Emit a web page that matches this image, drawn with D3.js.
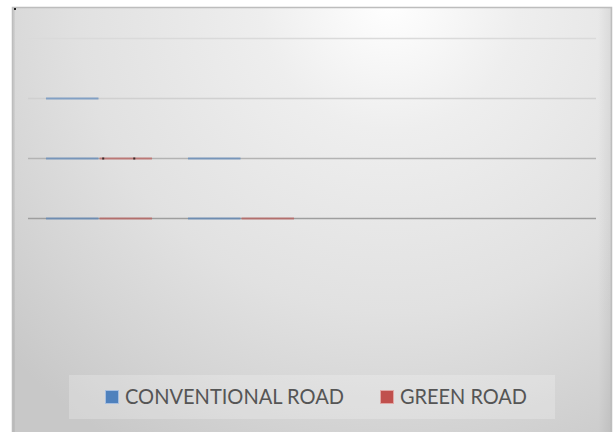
<!DOCTYPE html>
<html>
<head>
<meta charset="utf-8">
<script src="https://cdn.jsdelivr.net/npm/d3@7"></script>
<style>
html,body{margin:0;padding:0;background:#fff;}
svg{display:block;}
</style>
</head>
<body>
<svg id="chart" width="614" height="432"></svg>
<script>
// ---- data ----
const categories = ["1", "2", "3", "4"];
const seriesNames = ["CONVENTIONAL ROAD", "GREEN ROAD"];
const conventionalRoad = [2, 1, null, null];
const greenRoad = [1, 0, null, null];
const yTicks = [0, 1, 2, 3];

const colors = ["#4f81bd", "#c0504d"];
const svg = d3.select("#chart");

// background gradient (chart area)
const defs = svg.append("defs");
const rg = defs.append("radialGradient").attr("id", "bg")
  .attr("gradientUnits", "userSpaceOnUse")
  .attr("cx", 390).attr("cy", 0).attr("r", 520).attr("fx", 390).attr("fy", 0);
[[0, "#ffffff"], [0.25, "#eeeeee"], [0.6, "#e1e1e1"], [0.8, "#d5d5d5"], [1, "#c8c8c8"]]
  .forEach(([o, c]) => rg.append("stop").attr("offset", o).attr("stop-color", c));
const edgeL = defs.append("linearGradient").attr("id", "edgeR").attr("x1", 0).attr("x2", 1);
edgeL.append("stop").attr("offset", 0).attr("stop-color", "#000").attr("stop-opacity", 0);
edgeL.append("stop").attr("offset", 1).attr("stop-color", "#000").attr("stop-opacity", 0.06);

svg.append("rect").attr("x", 12.5).attr("y", 7.5).attr("width", 599).attr("height", 430)
  .attr("fill", "url(#bg)").attr("stroke", "#bdbdbd").attr("stroke-width", 1.5);
svg.append("rect").attr("x", 598).attr("y", 8).attr("width", 13).attr("height", 424)
  .attr("fill", "url(#edgeR)");
svg.append("rect").attr("x", 13).attr("y", 8).attr("width", 2).attr("height", 424)
  .attr("fill", "#000").attr("fill-opacity", 0.05);

// scales
const x0 = d3.scaleBand().domain(categories).range([28, 596]).paddingInner(0.246).paddingOuter(0.123);
const x1 = d3.scaleBand().domain(seriesNames).range([0, x0.bandwidth()]).padding(0);
const y = d3.scaleLinear().domain([0, 3]).range([217.7, 38.3]);

// gridlines
const gridColors = ["#9e9e9e", "#b3b3b3", "#d0d0d0", "#dadada"];
svg.append("g").selectAll("line").data(yTicks).join("line")
  .attr("x1", 28).attr("x2", 596)
  .attr("y1", d => Math.round(y(d)) + 0.5).attr("y2", d => Math.round(y(d)) + 0.5)
  .attr("stroke", (d, i) => gridColors[i]).attr("stroke-width", 1.5);

// bars: unfilled bars drawn as horizontal edges at each unit level
const series = [conventionalRoad, greenRoad];
const segs = [];
series.forEach((vals, s) => {
  vals.forEach((v, i) => {
    if (v == null) return;
    for (let k = 0; k <= v; k++) segs.push({ s, cat: categories[i], level: k });
  });
});
svg.append("g").selectAll("line").data(segs).join("line")
  .attr("x1", d => x0(d.cat) + x1(seriesNames[d.s]) + 0.5)
  .attr("x2", d => x0(d.cat) + x1(seriesNames[d.s]) + x1.bandwidth() - 0.5)
  .attr("y1", d => Math.round(y(d.level)) + 0.5).attr("y2", d => Math.round(y(d.level)) + 0.5)
  .attr("stroke", d => colors[d.s]).attr("stroke-opacity", 0.6).attr("stroke-width", 2);

// small dark marks on the green bar edge
svg.append("g").selectAll("rect").data([0.06, 0.64]).join("rect")
  .attr("x", d => x0(categories[0]) + x1(seriesNames[1]) + d * x1.bandwidth())
  .attr("y", Math.round(y(1)) - 0.5).attr("width", 2).attr("height", 2).attr("fill", "#3a2a2a");

// tiny handle at top-left
svg.append("rect").attr("x", 14).attr("y", 8).attr("width", 2).attr("height", 2).attr("fill", "#222");

// legend
const lg = svg.append("g");
lg.append("rect").attr("x", 69).attr("y", 375).attr("width", 486).attr("height", 44)
  .attr("fill", "#ffffff").attr("fill-opacity", 0.22);
const legX = [105.5, 380.5];
const legW = [219, 127];
const lightBorder = ["#a7bfe0", "#e0a8a6"];
seriesNames.forEach((n, i) => {
  lg.append("rect").attr("x", legX[i]).attr("y", 390.5).attr("width", 13).attr("height", 13)
    .attr("fill", colors[i]).attr("stroke", lightBorder[i]).attr("stroke-width", 1);
  lg.append("text").attr("x", legX[i] + 19.5).attr("y", 404)
    .attr("font-family", "Lato, 'Open Sans', sans-serif").attr("font-size", 20.5)
    .attr("fill", "#555555")
    .attr("textLength", legW[i]).attr("lengthAdjust", "spacingAndGlyphs")
    .text(n);
});
</script>
</body>
</html>
